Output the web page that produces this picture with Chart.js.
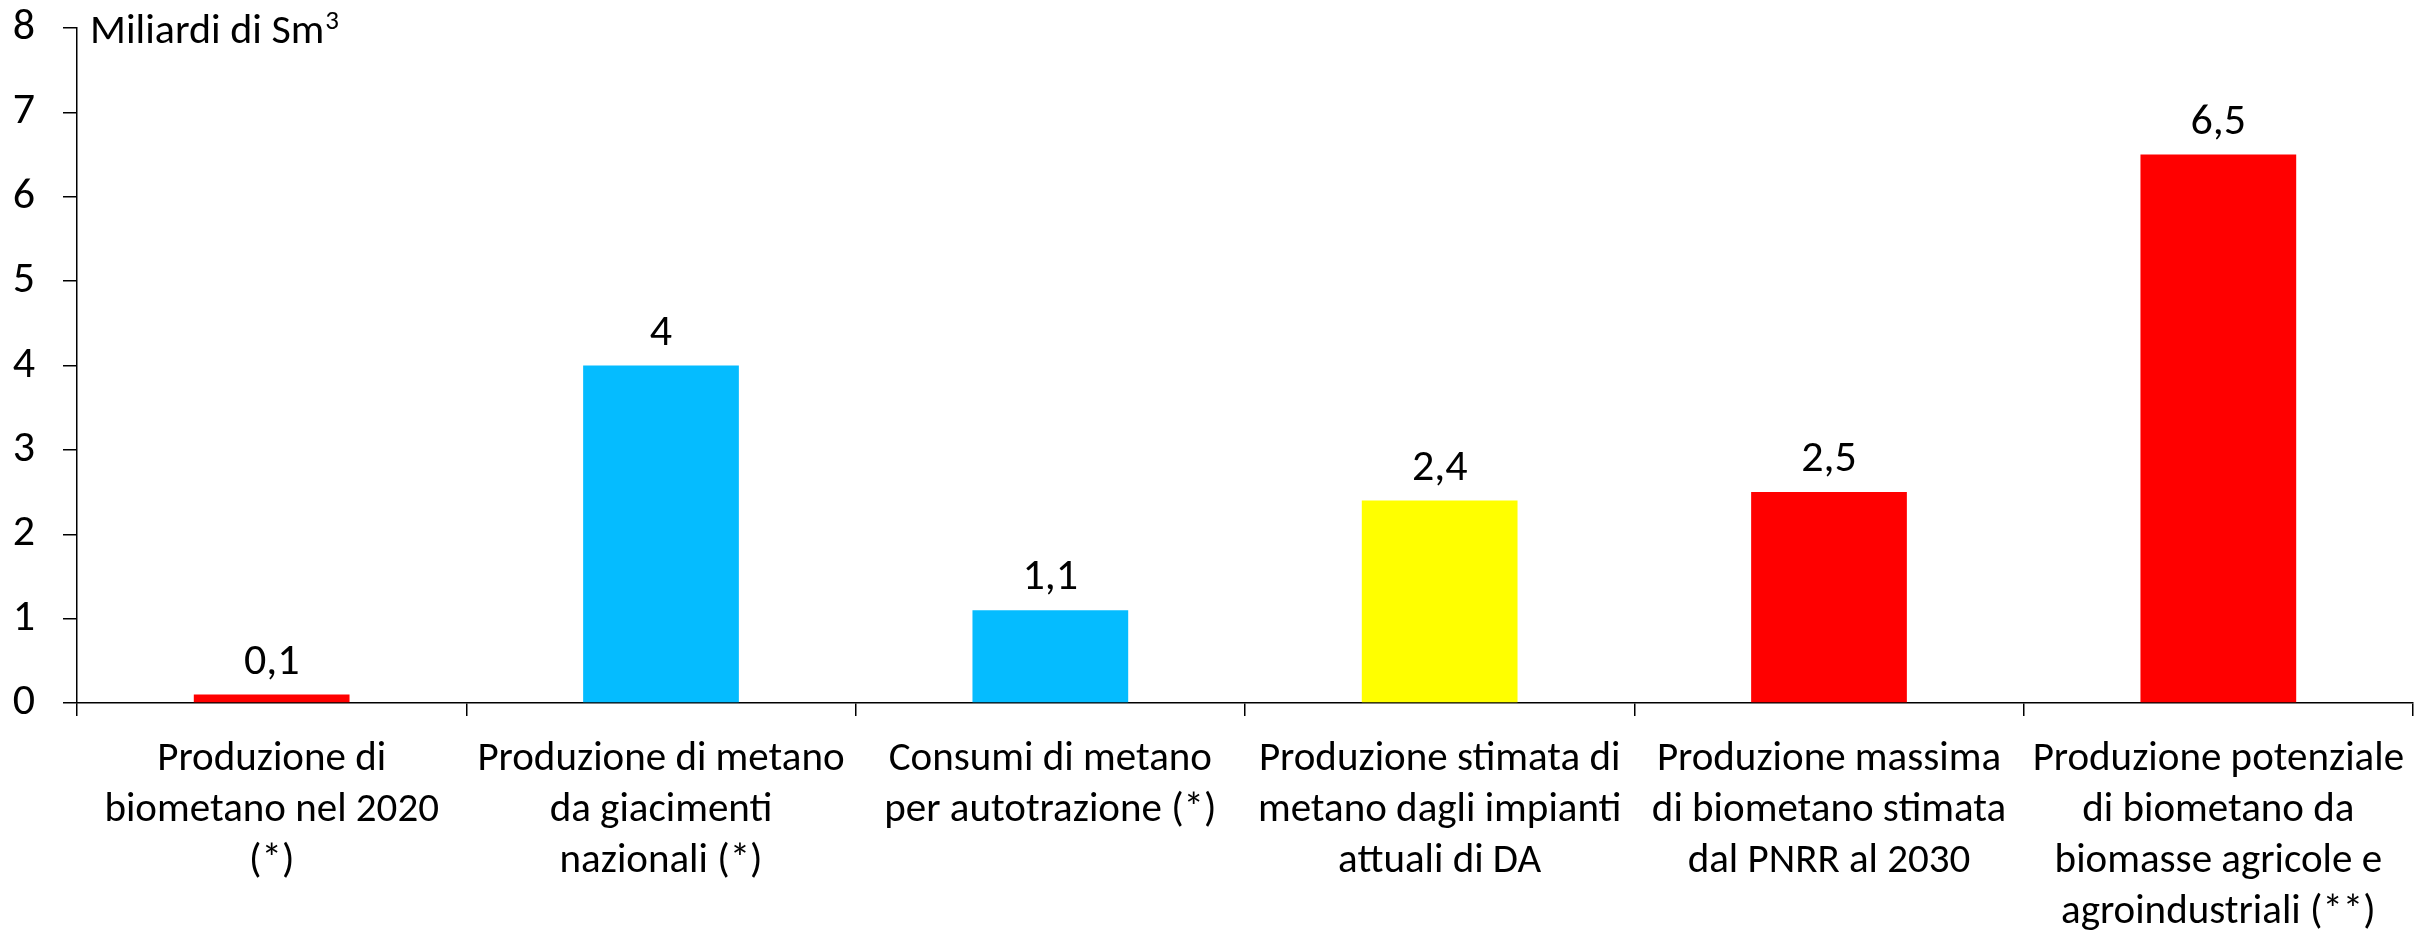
<!DOCTYPE html>
<html><head><meta charset="utf-8">
<script src="https://cdn.jsdelivr.net/npm/chart.js@4.4.0/dist/chart.umd.min.js"></script>
<style>html,body{margin:0;padding:0;background:#fff}#wrap{width:2420px;height:934px;position:relative}</style>
</head><body><div id="wrap"><canvas id="c" width="2420" height="934"></canvas></div>
<script>
const categories = [
  ["Produzione di", "biometano nel 2020", "(*)"],
  ["Produzione di metano", "da giacimenti", "nazionali (*)"],
  ["Consumi di metano", "per autotrazione (*)"],
  ["Produzione stimata di", "metano dagli impianti", "attuali di DA"],
  ["Produzione massima", "di biometano stimata", "dal PNRR al 2030"],
  ["Produzione potenziale", "di biometano da", "biomasse agricole e", "agroindustriali (**)"]
];
const values = [0.1, 4, 1.1, 2.4, 2.5, 6.5];
const barColors = ["#FF0000", "#05BCFF", "#05BCFF", "#FFFF00", "#FF0000", "#FF0000"];
const yMin = 0, yMax = 8, yStep = 1;
const unitLabel = "Miliardi di Sm";
const unitSup = "3";

const FONT = "Carlito, Lato, sans-serif";
const FS = 41;      // category labels
const FS_NUM = 44;  // numbers (ticks and value labels)
const FS_TITLE = 42;

const fmt = v => String(v).replace('.', ',');

const valueLabels = {
  id: 'valueLabels',
  afterDatasetsDraw(chart) {
    const ctx = chart.ctx;
    const meta = chart.getDatasetMeta(0);
    ctx.save();
    ctx.font = FS_NUM + 'px ' + FONT;
    ctx.fillStyle = '#000';
    ctx.textAlign = 'center';
    ctx.textBaseline = 'alphabetic';
    meta.data.forEach((bar, i) => {
      ctx.fillText(fmt(values[i]), bar.x, bar.y - 21);
    });
    ctx.restore();
  }
};

const unitTitle = {
  id: 'unitTitle',
  afterDraw(chart) {
    const ctx = chart.ctx;
    const a = chart.chartArea;
    ctx.save();
    ctx.fillStyle = '#000';
    ctx.textAlign = 'left';
    ctx.textBaseline = 'alphabetic';
    ctx.font = FS_TITLE + 'px ' + FONT;
    const x = a.left + 13, y = a.top + 15;
    ctx.fillText(unitLabel, x, y);
    const w = ctx.measureText(unitLabel).width;
    ctx.font = Math.round(FS_TITLE * 0.65) + 'px ' + FONT;
    ctx.fillText(unitSup, x + w + 1, y - 14);
    ctx.restore();
  }
};

new Chart(document.getElementById('c'), {
  type: 'bar',
  data: {
    labels: categories,
    datasets: [{
      data: values,
      backgroundColor: barColors,
      borderWidth: 0,
      categoryPercentage: 1,
      barPercentage: 0.4
    }]
  },
  options: {
    responsive: false,
    devicePixelRatio: 1,
    animation: false,
    layout: { padding: { top: 28, right: 7, left: 0, bottom: 0 } },
    plugins: { legend: { display: false }, tooltip: { enabled: false } },
    scales: {
      x: {
        grid: { offset: true, drawOnChartArea: false, drawTicks: true, tickLength: 13, color: '#000', lineWidth: 1.5 },
        border: { display: true, color: '#000', width: 1.5 },
        ticks: { color: '#000', padding: 18, maxRotation: 0, autoSkip: false, font: { family: FONT, size: FS, lineHeight: '51px' } },
        afterFit(scale) { scale.height = 231; scale.paddingLeft = 0; scale.paddingRight = 0; }
      },
      y: {
        min: yMin, max: yMax,
        grid: { drawOnChartArea: false, drawTicks: true, tickLength: 14, color: '#000', lineWidth: 1.5 },
        border: { display: true, color: '#000', width: 1.5 },
        ticks: { stepSize: yStep, color: '#000', padding: 28, font: { family: FONT, size: FS_NUM } },
        afterFit(scale) { scale.width = 77; scale.paddingTop = 0; scale.paddingBottom = 0; }
      }
    }
  },
  plugins: [valueLabels, unitTitle]
});
</script>
</body></html>
